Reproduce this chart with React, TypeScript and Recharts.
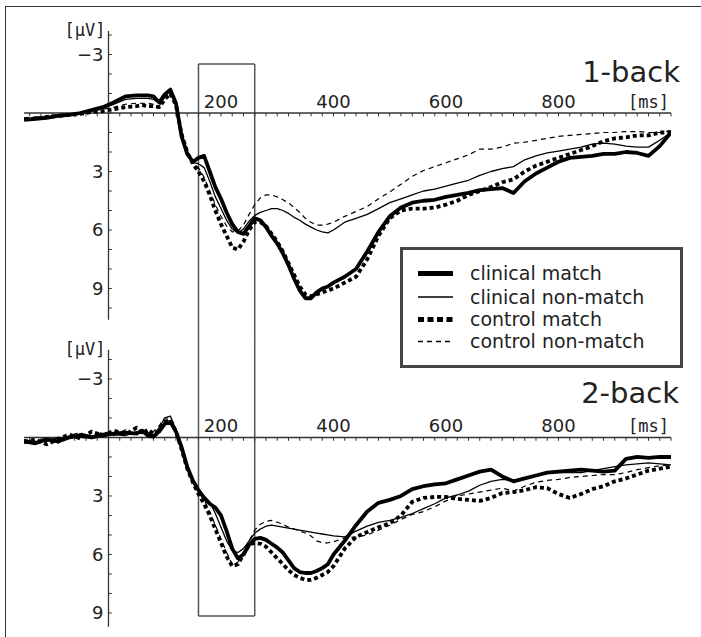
import React from "react";
import { LineChart, Line, XAxis, YAxis, ReferenceLine } from "recharts";

// sample times in ms
const TIME = [
  -150, -130, -110, -90, -70, -50, -30, -10, 10, 30, 50,
  60, 70, 80, 90, 100, 110, 120, 130, 140, 150, 160, 170, 180, 190, 200,
  210, 220, 230, 240, 250, 260, 270, 280, 290, 300, 310, 320, 330, 340, 350,
  360, 370, 380, 390, 400,
  420, 440, 460, 480, 500, 520, 540, 560, 580, 600, 620, 640, 660, 680, 700,
  720, 740, 760, 780, 800, 820, 840, 860, 880, 900, 920, 940, 960, 980, 1000,
];

// 1-back (µV, negative up)
const ONE_CLIN_MATCH = [
  0.35, 0.3, 0.25, 0.15, 0.1, 0.0, -0.15, -0.3, -0.55, -0.85, -0.9,
  -0.9, -0.9, -0.85, -0.55, -0.95, -1.2, -0.5, 1.2, 2.1, 2.5, 2.3, 2.2, 3.0, 3.8, 4.4,
  5.1, 5.7, 6.1, 6.2, 5.8, 5.4, 5.5, 5.85, 6.3, 6.7, 7.2, 7.8, 8.5, 9.1, 9.5,
  9.5, 9.2, 9.0, 8.9, 8.7,
  8.4, 8.0, 7.1, 6.1, 5.3, 4.85, 4.6, 4.5, 4.45, 4.3, 4.2, 4.1, 3.95, 3.9, 3.85,
  4.1, 3.5, 3.1, 2.8, 2.5, 2.3, 2.25, 2.2, 2.1, 2.1, 2.0, 2.05, 2.2, 1.7, 1.0,
];
const ONE_CLIN_NONMATCH = [
  0.3, 0.28, 0.22, 0.15, 0.08, 0.0, -0.12, -0.25, -0.45, -0.7, -0.75,
  -0.75, -0.75, -0.7, -0.5, -0.9, -1.1, -0.4, 1.2, 2.1, 2.55, 2.6, 2.8, 3.5, 4.3, 4.9,
  5.5, 5.95, 6.15, 5.95, 5.55, 5.25, 5.1, 5.0, 4.9, 4.9, 5.0, 5.15, 5.35, 5.5, 5.7,
  5.85, 6.0, 6.1, 6.15, 6.0,
  5.6, 5.4, 5.2, 4.9, 4.6, 4.4, 4.2, 4.0, 3.9, 3.75, 3.6, 3.45, 3.2, 3.0, 2.85,
  2.75, 2.4, 2.2, 2.05, 1.95, 1.85, 1.75, 1.6, 1.55, 1.6, 1.7, 1.75, 1.75, 1.4, 1.0,
];
const ONE_CTRL_MATCH = [
  0.3, 0.3, 0.2, 0.15, 0.1, 0.05, -0.05, -0.1, -0.2, -0.3, -0.35,
  -0.4, -0.35, -0.35, -0.3, -0.7, -1.0, -0.4, 1.1, 2.0, 2.6, 3.0, 3.5, 4.2, 5.0, 5.7,
  6.3, 6.9, 7.0, 6.6, 6.0, 5.6, 5.6, 5.8, 6.2, 6.6, 7.1, 7.7, 8.3, 8.9, 9.3,
  9.4, 9.3, 9.2, 9.1, 9.0,
  8.7, 8.4, 7.5, 6.3, 5.4, 5.0, 4.9, 4.9, 4.85, 4.7, 4.5, 4.2, 4.0, 3.8, 3.55,
  3.4, 3.0, 2.7, 2.5, 2.3, 2.1, 1.9, 1.7, 1.45, 1.3, 1.25, 1.15, 1.15, 1.0, 1.0,
];
const ONE_CTRL_NONMATCH = [
  0.25, 0.2, 0.2, 0.1, 0.05, 0.0, -0.1, -0.2, -0.3, -0.45, -0.5,
  -0.5, -0.5, -0.45, -0.35, -0.8, -1.05, -0.4, 1.1, 2.0, 2.55, 2.8, 3.3, 4.0, 4.7, 5.3,
  5.8, 6.1, 6.05, 5.75, 5.2, 4.7, 4.35, 4.2, 4.2, 4.3, 4.45, 4.6, 4.85, 5.1, 5.4,
  5.6, 5.75, 5.75, 5.7, 5.6,
  5.3, 5.05, 4.8, 4.4, 4.05, 3.65, 3.25, 2.95, 2.75, 2.55, 2.35, 2.15, 1.85, 1.85, 1.75,
  1.55, 1.5, 1.4, 1.3, 1.2, 1.15, 1.1, 1.05, 1.0, 1.0, 0.95, 0.95, 1.0, 1.0, 0.9,
];

// 2-back
const TWO_CLIN_MATCH = [
  0.2, 0.3, 0.1, 0.2, 0.0, -0.1, 0.0, -0.15, -0.2, -0.25, -0.2,
  -0.35, -0.1, -0.05, -0.3, -0.7, -0.8, -0.3, 0.5, 1.5, 2.2, 2.7, 3.1, 3.4, 3.6, 4.0,
  4.8, 5.7, 6.2, 6.0, 5.5, 5.2, 5.15, 5.25, 5.45, 5.65, 5.9, 6.3, 6.7, 6.9, 6.95,
  6.95, 6.85, 6.7, 6.5, 6.0,
  5.3, 4.5, 3.8, 3.35, 3.2, 3.0, 2.65, 2.5, 2.4, 2.35, 2.15, 1.95, 1.75, 1.65, 2.0,
  2.25, 2.1, 1.95, 1.8, 1.75, 1.7, 1.65, 1.7, 1.75, 1.7, 1.1, 1.0, 1.05, 1.0, 1.0,
];
const TWO_CLIN_NONMATCH = [
  0.15, 0.2, 0.2, 0.0, 0.05, -0.2, -0.1, -0.05, -0.15, -0.1, -0.3,
  -0.2, -0.25, -0.1, -0.5, -1.0, -1.1, -0.4, 0.6, 1.6, 2.3, 2.75, 3.0, 3.3, 3.9, 4.6,
  5.3, 5.8, 5.9, 5.7, 5.3, 4.9, 4.7, 4.55, 4.5, 4.55, 4.6, 4.65, 4.7, 4.75, 4.8,
  4.85, 4.9, 4.95, 5.0, 5.05,
  5.1, 4.8, 4.55, 4.35, 4.25, 4.1, 3.9, 3.65, 3.4, 3.1, 2.95, 2.75, 2.45, 2.25, 2.15,
  2.2, 2.1, 1.95, 1.8, 1.8, 1.8, 1.8, 1.7, 1.6, 1.5, 1.4, 1.35, 1.3, 1.35, 1.4,
];
const TWO_CTRL_MATCH = [
  0.25, 0.1, 0.35, 0.1, -0.15, 0.05, -0.3, -0.1, -0.35, -0.15, -0.5,
  -0.2, -0.4, -0.2, -0.35, -0.8, -0.9, -0.3, 0.6, 1.6, 2.3, 2.9, 3.4, 4.0, 4.7, 5.4,
  6.1, 6.6, 6.5, 6.0, 5.5, 5.4, 5.45, 5.6, 5.9, 6.2, 6.5, 6.8, 7.05, 7.2, 7.3,
  7.3, 7.2, 7.05, 6.9, 6.6,
  5.7, 5.1, 4.85, 4.6, 4.4, 4.0, 3.3, 3.1, 3.05, 3.05, 3.15, 3.2, 3.25, 3.1, 2.85,
  2.8, 2.7, 2.55, 2.6, 2.9, 3.1, 2.9, 2.65, 2.5, 2.25, 2.1, 1.9, 1.7, 1.6, 1.5,
];
const TWO_CTRL_NONMATCH = [
  0.1, 0.25, 0.0, 0.3, -0.1, -0.25, 0.05, -0.3, -0.1, -0.4, -0.15,
  -0.45, -0.2, -0.3, -0.6, -1.0, -1.0, -0.35, 0.55, 1.55, 2.25, 2.8, 3.2, 3.8, 4.5, 5.2,
  5.9, 6.5, 6.4, 5.9, 5.3, 4.75, 4.45, 4.3, 4.25, 4.35, 4.45, 4.6, 4.7, 4.8, 4.9,
  5.05, 5.3, 5.4, 5.4, 5.35,
  5.15, 5.1, 5.0, 4.75, 4.5, 4.2, 3.95, 3.8, 3.55, 3.25, 3.0, 2.9, 2.8, 2.7, 2.6,
  2.75, 2.5, 2.3, 2.2, 2.15, 2.05, 2.0, 1.95, 1.9, 1.9, 1.8, 1.65, 1.55, 1.45, 1.4,
];

const X_LABELS = [200, 400, 600, 800];
const Y_LABELS = [-3, 3, 6, 9];
const LEGEND = ["clinical match", "clinical non-match", "control match", "control non-match"];

const FONT = "'DejaVu Sans', sans-serif";
const MONO = "'DejaVu Sans Mono', monospace";
const W = 701;
const H = 637;
const AXIS = "#333";
const BOX = "#555";

// drawn back to front
const SERIES = [
  { key: "cn", width: 1.2, dash: "5 4" },
  { key: "kn", width: 1.3, dash: undefined },
  { key: "c", width: 3.8, dash: "4 3" },
  { key: "k", width: 3.8, dash: undefined },
];

// legend samples, in legend order
const LEGEND_STYLE = [
  { width: 5, dash: undefined },
  { width: 1.4, dash: undefined },
  { width: 5, dash: "6 3.5" },
  { width: 1.3, dash: "5 4" },
];

function rows(k: number[], kn: number[], c: number[], cn: number[]) {
  return TIME.map((t, i) => ({ t, k: k[i], kn: kn[i], c: c[i], cn: cn[i] }));
}

const topRows = rows(ONE_CLIN_MATCH, ONE_CLIN_NONMATCH, ONE_CTRL_MATCH, ONE_CTRL_NONMATCH);
const bottomRows = rows(TWO_CLIN_MATCH, TWO_CLIN_NONMATCH, TWO_CTRL_MATCH, TWO_CTRL_NONMATCH);

type PanelProps = {
  data: any[];
  domain: [number, number];
  top: number;
  bottom: number;
  axisTop: number;
  axisBottom: number;
  boxTop?: number;
  boxBottom?: number;
};

function Panel({ data, domain, top, bottom, axisTop, axisBottom, boxTop, boxBottom }: PanelProps) {
  const xTicks: number[] = [];
  for (let t = -140; t <= 1000; t += 20) if (t !== 0) xTicks.push(t);
  const yTicks: number[] = [];
  for (let v = Math.ceil(axisTop); v <= Math.floor(axisBottom); v++) yTicks.push(v);
  const bt = boxTop ?? domain[0];
  const bb = boxBottom ?? domain[1];
  const lbl = { fill: "#222", fontSize: 18, fontFamily: FONT };

  return (
    <div style={{ position: "absolute", left: 0, top: 0 }}>
      <LineChart width={W} height={H} data={data} margin={{ top, bottom: H - bottom, left: 24.1, right: 30 }}>
        <XAxis type="number" dataKey="t" domain={[-150, 1000]} hide allowDataOverflow />
        <YAxis type="number" domain={domain} reversed hide allowDataOverflow />

        {/* the 160-260 ms window */}
        <ReferenceLine ifOverflow="visible" stroke={BOX} strokeWidth={1.5} segment={[{ x: 160, y: bt }, { x: 160, y: bb }]} />
        <ReferenceLine ifOverflow="visible" stroke={BOX} strokeWidth={1.5} segment={[{ x: 260, y: bt }, { x: 260, y: bb }]} />
        {boxTop !== undefined && (
          <ReferenceLine ifOverflow="visible" stroke={BOX} strokeWidth={1.5} segment={[{ x: 160, y: boxTop }, { x: 260, y: boxTop }]} />
        )}
        {boxBottom !== undefined && (
          <ReferenceLine ifOverflow="visible" stroke={BOX} strokeWidth={1.5} segment={[{ x: 160, y: boxBottom }, { x: 260, y: boxBottom }]} />
        )}

        {/* axes through zero */}
        <ReferenceLine ifOverflow="visible" stroke={AXIS} strokeWidth={1.3} segment={[{ x: -150, y: 0 }, { x: 1000, y: 0 }]} />
        <ReferenceLine ifOverflow="visible" stroke={AXIS} strokeWidth={1.3} segment={[{ x: 0, y: axisTop }, { x: 0, y: axisBottom }]} />
        {xTicks.map((t) => (
          <ReferenceLine
            key={"xt" + t}
            ifOverflow="visible"
            stroke={AXIS}
            strokeWidth={1}
            segment={[{ x: t, y: 0 }, { x: t, y: 0.17 }]}
            label={
              X_LABELS.includes(t)
                ? { value: String(t), position: "top", offset: 5, ...lbl }
                : t === 960
                ? { value: "[ms]", position: "top", offset: 5, ...lbl, fontSize: 17, fontFamily: MONO }
                : undefined
            }
          />
        ))}
        {yTicks.map((v) => (
          <ReferenceLine
            key={"yt" + v}
            ifOverflow="visible"
            stroke={AXIS}
            strokeWidth={1}
            segment={[{ x: 0, y: v }, { x: 6, y: v }]}
            label={Y_LABELS.includes(v) ? { value: v < 0 ? "\u2212" + Math.abs(v) : String(v), position: "left", offset: 5, ...lbl } : undefined}
          />
        ))}
        <ReferenceLine
          ifOverflow="visible"
          stroke="none"
          segment={[{ x: 0, y: axisTop - 0.05 }, { x: 1, y: axisTop - 0.05 }]}
          label={{ value: "[\u00b5V]", position: "left", offset: 3, ...lbl, fontSize: 17, fontFamily: MONO }}
        />

        {SERIES.map((s) => (
          <Line
            key={s.key}
            dataKey={s.key}
            type="linear"
            stroke="#000"
            strokeWidth={s.width}
            strokeDasharray={s.dash}
            strokeLinejoin="round"
            dot={false}
            activeDot={false}
            isAnimationActive={false}
          />
        ))}
      </LineChart>
    </div>
  );
}

function Legend() {
  const ys = [273.5, 297, 319.5, 341.5];
  return (
    <svg width={W} height={H} style={{ position: "absolute", left: 0, top: 0 }}>
      <text x={680} y={82} textAnchor="end" fontSize={29} fontFamily={FONT} fill="#222">1-back</text>
      <text x={679} y={403} textAnchor="end" fontSize={29} fontFamily={FONT} fill="#222">2-back</text>
      <rect x={401.5} y={248.5} width={280} height={118} fill="#fff" stroke="#444" strokeWidth={3} />
      {LEGEND.map((name, i) => (
        <g key={name}>
          <line
            x1={418}
            x2={453}
            y1={ys[i]}
            y2={ys[i]}
            stroke="#000"
            strokeWidth={LEGEND_STYLE[i].width}
            strokeDasharray={LEGEND_STYLE[i].dash}
          />
          <text x={470} y={ys[i] + 6.5} fontSize={19} fontFamily={FONT} fill="#222">{name}</text>
        </g>
      ))}
    </svg>
  );
}

export default function App() {
  return (
    <div style={{ position: "absolute", left: 0, top: 0, width: W, height: H, background: "#fff", overflow: "hidden" }}>
      <div style={{ position: "absolute", left: 5, top: 6, width: W, height: H, borderTop: "1.5px solid #333", borderLeft: "1.5px solid #333" }} />
      <Panel data={topRows} domain={[-4.3, 11.5]} top={29.15} bottom={337.25} axisTop={-4.2} axisBottom={10.6} boxTop={-2.51} />
      <Panel data={bottomRows} domain={[-5.14, 9.75]} top={337.25} bottom={627.6} axisTop={-4.5} axisBottom={9.7} boxBottom={9.15} />
      <Legend />
    </div>
  );
}
